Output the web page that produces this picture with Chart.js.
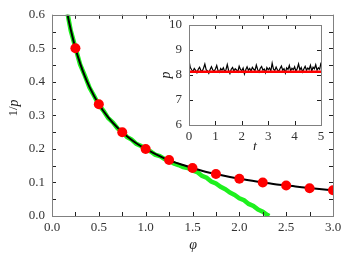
<!DOCTYPE html>
<html>
<head>
<meta charset="utf-8">
<script src="https://cdn.jsdelivr.net/npm/chart.js@4.4.1/dist/chart.umd.min.js"></script>
<style>
  html, body { margin: 0; padding: 0; background: #fff; }
  #wrap { position: relative; width: 346px; height: 253px; }
  #main { position: absolute; left: 0; top: 0; }
  #inset { position: absolute; left: 160px; top: 0; }
</style>
</head>
<body>
<div id="wrap">
  <canvas id="main" width="346" height="253"></canvas>
  <canvas id="inset" width="180" height="150"></canvas>
</div>
<script>
// red markers (simulation points)
const phiPoints = [0.25, 0.5, 0.75, 1.0, 1.25, 1.5, 1.75, 2.0, 2.25, 2.5, 2.75, 3.0];
const invPPoints = [0.5, 0.333, 0.25, 0.2, 0.167, 0.143, 0.125, 0.111, 0.1, 0.091, 0.083, 0.077];

// black curve
const curvePhi = [0.15, 0.18, 0.2, 0.25, 0.3, 0.35, 0.4, 0.5, 0.6, 0.7, 0.8, 0.9, 1.0, 1.2, 1.4, 1.6, 1.8, 2.0, 2.2, 2.4, 2.6, 2.8, 3.0];
const curveInvP = [0.625, 0.581, 0.556, 0.5, 0.455, 0.417, 0.385, 0.333, 0.294, 0.263, 0.238, 0.217, 0.2, 0.172, 0.152, 0.135, 0.122, 0.111, 0.102, 0.094, 0.088, 0.082, 0.077];

// green noisy curve
const greenPhi = [0.15, 0.2, 0.25, 0.3, 0.35, 0.4, 0.45, 0.5, 0.55, 0.6,
  0.65, 0.7, 0.75, 0.8, 0.85, 0.9, 0.95, 1.0, 1.05, 1.1,
  1.15, 1.2, 1.25, 1.3, 1.35, 1.4, 1.45, 1.5, 1.55, 1.6,
  1.65, 1.7, 1.75, 1.8, 1.85, 1.9, 1.95, 2.0, 2.05, 2.1,
  2.15, 2.2, 2.25, 2.3, 2.32];
const greenInvP = [0.627, 0.553, 0.502, 0.452, 0.419, 0.383, 0.358, 0.331, 0.314, 0.292,
  0.279, 0.261, 0.251, 0.236, 0.228, 0.215, 0.209, 0.198, 0.193, 0.183,
  0.179, 0.170, 0.166, 0.157, 0.152, 0.146, 0.143, 0.136, 0.131, 0.120,
  0.114, 0.103, 0.097, 0.087, 0.080, 0.070, 0.063, 0.053, 0.047, 0.036,
  0.030, 0.019, 0.013, 0.003, 0.0];

// inset: p(t)
const insetT = [0, 0.05, 0.1, 0.15, 0.2, 0.25, 0.3, 0.35, 0.4, 0.45,
  0.5, 0.55, 0.6, 0.65, 0.7, 0.75, 0.8, 0.85, 0.9, 0.95,
  1.0, 1.05, 1.1, 1.15, 1.2, 1.25, 1.3, 1.35, 1.4, 1.45,
  1.5, 1.55, 1.6, 1.65, 1.7, 1.75, 1.8, 1.85, 1.9, 1.95,
  2.0, 2.05, 2.1, 2.15, 2.2, 2.25, 2.3, 2.35, 2.4, 2.45,
  2.5, 2.55, 2.6, 2.65, 2.7, 2.75, 2.8, 2.85, 2.9, 2.95,
  3.0, 3.05, 3.1, 3.15, 3.2, 3.25, 3.3, 3.35, 3.4, 3.45,
  3.5, 3.55, 3.6, 3.65, 3.7, 3.75, 3.8, 3.85, 3.9, 3.95,
  4.0, 4.05, 4.1, 4.15, 4.2, 4.25, 4.3, 4.35, 4.4, 4.45,
  4.5, 4.55, 4.6, 4.65, 4.7, 4.75, 4.8, 4.85, 4.9, 4.95, 5.0];
const insetP = [8.58, 8.30, 8.21, 8.14, 8.26, 8.19, 8.09, 8.23, 8.31, 8.18,
  8.15, 8.27, 8.44, 8.21, 8.16, 8.07, 8.22, 8.33, 8.20, 8.15,
  8.24, 8.38, 8.17, 8.11, 8.26, 8.19, 8.29, 8.14, 8.21, 8.42,
  8.18, 8.06, 8.23, 8.30, 8.16, 8.25, 8.20, 8.13, 8.35, 8.22,
  8.17, 8.28, 8.04, 8.21, 8.33, 8.19, 8.26, 8.15, 8.31, 8.23,
  8.18, 8.40, 8.22, 8.12, 8.27, 8.34, 8.19, 8.24, 8.09, 8.30,
  8.21, 8.28, 8.16, 8.47, 8.23, 8.18, 8.32, 8.20, 8.14, 8.26,
  8.36, 8.19, 8.25, 8.08, 8.29, 8.22, 8.38, 8.17, 8.27, 8.21,
  8.33, 8.15, 8.26, 8.44, 8.20, 8.30, 8.12, 8.24, 8.35, 8.19,
  8.28, 8.22, 8.39, 8.16, 8.31, 8.25, 8.41, 8.19, 8.29, 8.23, 8.50];
const insetMeanT = [0, 5];
const insetMeanP = [8.13, 8.13];

const serif = "'Liberation Serif', 'DejaVu Serif', serif";
const tickFont = { family: serif, size: 13 };
const tickColor = '#333';

const pts = (xs, ys) => xs.map((x, i) => ({ x: x, y: ys[i] }));

// frame + inward ticks on all four sides
const frameTicks = {
  id: 'frameTicks',
  afterDatasetsDraw(chart, args, opts) {
    const { ctx, chartArea: a, scales: { x, y } } = chart;
    ctx.save();
    ctx.strokeStyle = '#222';
    ctx.lineWidth = 1;
    ctx.beginPath();
    for (let v = x.min; v <= x.max + 1e-9; v += opts.xStep) {
      const px = Math.round(x.getPixelForValue(v)) + 0.5;
      ctx.moveTo(px, a.bottom); ctx.lineTo(px, a.bottom - opts.len);
      ctx.moveTo(px, a.top); ctx.lineTo(px, a.top + opts.len);
    }
    for (let v = y.min; v <= y.max + 1e-9; v += opts.yStep) {
      const py = Math.round(y.getPixelForValue(v)) + 0.5;
      ctx.moveTo(a.left, py); ctx.lineTo(a.left + opts.len, py);
      ctx.moveTo(a.right, py); ctx.lineTo(a.right - opts.len, py);
    }
    ctx.stroke();
    ctx.strokeStyle = '#808080';
    ctx.strokeRect(Math.round(a.left) + 0.5, Math.round(a.top) + 0.5,
      Math.round(a.right - a.left), Math.round(a.bottom - a.top));
    ctx.restore();
  }
};

// axis titles with an upright part and an italic part
const axisTitles = {
  id: 'axisTitles',
  afterDraw(chart, args, opts) {
    const ctx = chart.ctx;
    opts.items.forEach(t => {
      ctx.save();
      ctx.translate(t.x, t.y);
      ctx.rotate(t.rot || 0);
      ctx.fillStyle = '#222';
      ctx.textBaseline = 'middle';
      ctx.font = '13px ' + serif;
      const w1 = ctx.measureText(t.plain || '').width;
      ctx.font = 'italic 14px ' + serif;
      const w2 = ctx.measureText(t.ital).width;
      let x0 = -(w1 + w2) / 2;
      ctx.textAlign = 'left';
      if (t.plain) {
        ctx.font = '13px ' + serif;
        ctx.fillText(t.plain, x0, 0);
        x0 += w1;
      }
      ctx.font = 'italic 14px ' + serif;
      ctx.fillText(t.ital, x0, 0);
      ctx.restore();
    });
  }
};

new Chart(document.getElementById('main'), {
  type: 'line',
  data: {
    datasets: [
      {
        data: pts(phiPoints, invPPoints),
        showLine: false,
        pointRadius: 5,
        pointBackgroundColor: '#ff0000',
        pointBorderWidth: 0
      },
      {
        data: pts(curvePhi, curveInvP),
        borderColor: '#000',
        borderWidth: 2,
        pointRadius: 0,
        cubicInterpolationMode: 'monotone'
      },
      {
        data: pts(greenPhi, greenInvP),
        borderColor: '#1ef01e',
        borderWidth: 4.5,
        pointRadius: 0
      }
    ]
  },
  options: {
    responsive: false,
    devicePixelRatio: 1,
    animation: false,
    layout: { padding: { left: 0, right: 13, top: 13, bottom: 0 } },
    plugins: {
      legend: { display: false },
      tooltip: { enabled: false },
      frameTicks: { xStep: 0.25, yStep: 0.05, len: 4 },
      axisTitles: {
        items: [
          { x: 14, y: 108, rot: -Math.PI / 2, plain: '1/', ital: 'p' },
          { x: 193, y: 245, ital: 'φ' }
        ]
      }
    },
    scales: {
      x: {
        type: 'linear', min: 0, max: 3,
        grid: { display: false, drawTicks: false },
        border: { display: false },
        ticks: { stepSize: 0.5, font: tickFont, color: tickColor, padding: 4, maxRotation: 0,
          callback: v => v.toFixed(1) },
        afterFit: s => { s.height = 37; }
      },
      y: {
        type: 'linear', min: 0, max: 0.6,
        grid: { display: false, drawTicks: false },
        border: { display: false },
        ticks: { stepSize: 0.1, font: tickFont, color: tickColor, padding: 7,
          callback: v => v.toFixed(1) },
        afterFit: s => { s.width = 52; }
      }
    }
  },
  plugins: [frameTicks, axisTitles]
});

new Chart(document.getElementById('inset'), {
  type: 'line',
  data: {
    datasets: [
      {
        data: pts(insetMeanT, insetMeanP),
        borderColor: '#ff0000',
        borderWidth: 2.5,
        pointRadius: 0
      },
      {
        data: pts(insetT, insetP),
        borderColor: '#000',
        borderWidth: 1.2,
        pointRadius: 0
      }
    ]
  },
  options: {
    responsive: false,
    devicePixelRatio: 1,
    animation: false,
    layout: { padding: { left: 0, right: 19, top: 25, bottom: 0 } },
    plugins: {
      legend: { display: false },
      tooltip: { enabled: false },
      frameTicks: { xStep: 1, yStep: 1, len: 4 },
      axisTitles: {
        items: [
          { x: 6, y: 75, rot: -Math.PI / 2, ital: 'p' },
          { x: 95, y: 147, ital: 't' }
        ]
      }
    },
    scales: {
      x: {
        type: 'linear', min: 0, max: 5,
        grid: { display: false, drawTicks: false },
        border: { display: false },
        ticks: { stepSize: 1, font: tickFont, color: tickColor, padding: 4, maxRotation: 0 },
        afterFit: s => { s.height = 25; }
      },
      y: {
        type: 'linear', min: 6, max: 10,
        grid: { display: false, drawTicks: false },
        border: { display: false },
        ticks: { stepSize: 1, font: tickFont, color: tickColor, padding: 7 },
        afterFit: s => { s.width = 29; }
      }
    }
  },
  plugins: [frameTicks, axisTitles]
});
</script>
</body>
</html>
